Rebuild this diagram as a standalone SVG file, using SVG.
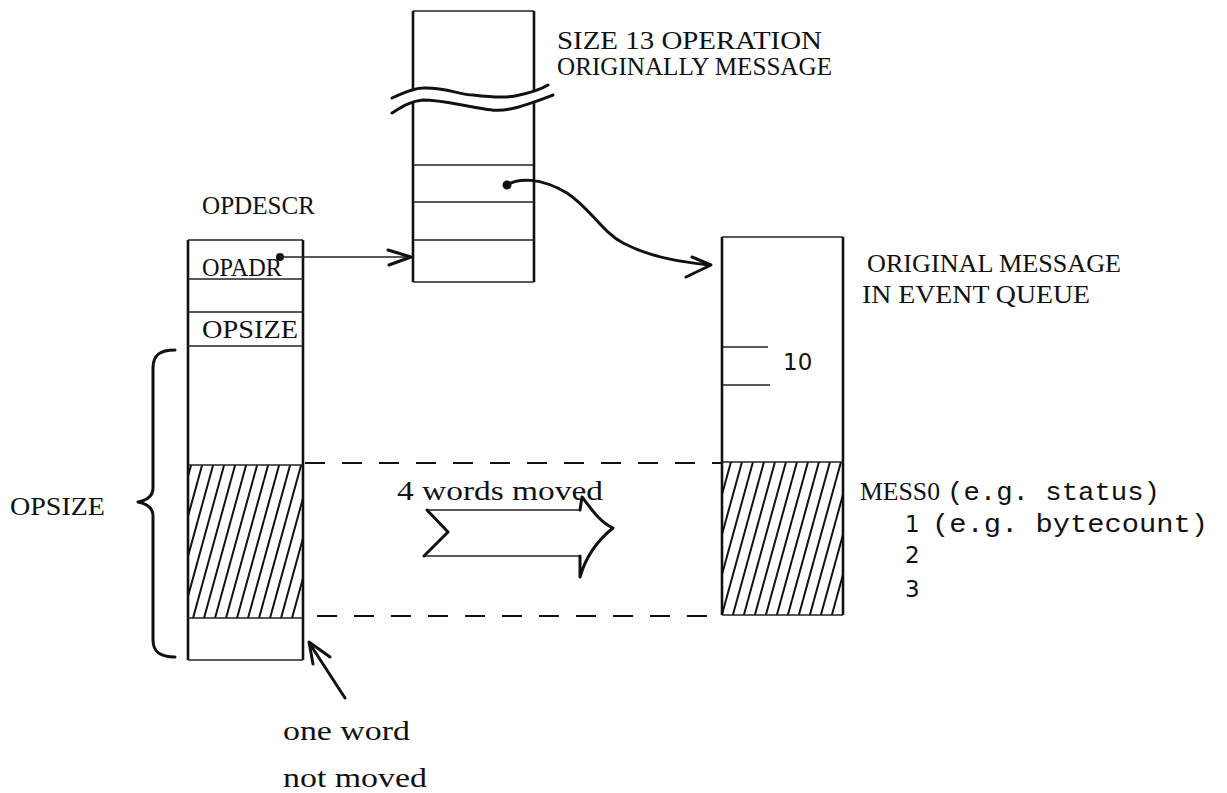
<svg xmlns="http://www.w3.org/2000/svg" width="1227" height="793" viewBox="0 0 1227 793">
<style>
.tw{font-family:"Liberation Serif","DejaVu Serif",serif;font-size:25px;fill:#111}
.lw{font-size:27px}
.mo{font-family:"Liberation Mono","DejaVu Sans Mono",monospace;font-size:26px;fill:#111}
.sn{font-family:"DejaVu Sans","Liberation Sans",sans-serif;font-size:23px;fill:#111}
.v{stroke:#111;stroke-width:2.6;fill:none}
.h{stroke:#222;stroke-width:1.6;fill:none}
.thick{stroke:#111;stroke-width:3;fill:none;stroke-linecap:round;stroke-linejoin:round}
.dash{stroke:#111;stroke-width:2;stroke-dasharray:20 17;fill:none}
</style>
<defs>
<pattern id="hatch" patternUnits="userSpaceOnUse" width="11" height="40">
<path d="M-11,40 L0,0 M0,40 L11,0 M11,40 L22,0" stroke="#111" stroke-width="2"/>
</pattern>
</defs>
<rect width="1227" height="793" fill="#fff"/>

<g id="top-box">
<line x1="413" y1="11" x2="534" y2="11" class="h"/>
<line x1="413" y1="11" x2="413" y2="282" class="v"/>
<line x1="534" y1="11" x2="534" y2="282" class="v"/>
<line x1="413" y1="165" x2="534" y2="165" class="h"/>
<line x1="413" y1="202" x2="534" y2="202" class="h"/>
<line x1="413" y1="240" x2="534" y2="240" class="h"/>
<line x1="413" y1="282" x2="534" y2="282" class="h"/>
<path d="M392,98 C405,92 415,88 423,88 C445,87 460,95 473,95 C490,97 505,98 515,96 C530,93 540,90 548,85 L553,95 C540,100 525,106 510,109 C495,112 485,109 473,107 C455,104 440,100 423,100 C410,101 400,108 392,113 Z" fill="#fff"/>
<path d="M392,98 C405,92 415,88 423,88 C445,87 460,95 473,95 C490,97 505,98 515,96 C530,93 540,90 548,85" class="thick"/>
<path d="M392,113 C400,108 410,101 423,100 C440,100 455,104 473,107 C485,109 495,112 510,109 C525,106 540,100 553,95" class="thick"/>
<text class="tw" x="557" y="49" font-size="20" textLength="265" lengthAdjust="spacingAndGlyphs">SIZE 13 OPERATION</text>
<text class="tw" x="557" y="75" font-size="20" textLength="275" lengthAdjust="spacingAndGlyphs">ORIGINALLY MESSAGE</text>
</g>

<g id="opdescr">
<text class="tw" x="202" y="214" textLength="113" lengthAdjust="spacingAndGlyphs">OPDESCR</text>
<rect x="188" y="465" width="115" height="153" fill="url(#hatch)"/>
<line x1="188" y1="240" x2="188" y2="660" class="v"/>
<line x1="303" y1="240" x2="303" y2="660" class="v"/>
<line x1="188" y1="240" x2="303" y2="240" class="h"/>
<line x1="188" y1="279" x2="303" y2="279" class="h"/>
<line x1="188" y1="312" x2="303" y2="312" class="h"/>
<line x1="188" y1="346" x2="303" y2="346" class="h"/>
<line x1="188" y1="465" x2="303" y2="465" class="h"/>
<line x1="188" y1="618" x2="303" y2="618" class="h"/>
<line x1="188" y1="660" x2="303" y2="660" class="h"/>
<text class="tw" x="202" y="276" textLength="80" lengthAdjust="spacingAndGlyphs">OPADR</text>
<text class="tw" x="202" y="338" textLength="96" lengthAdjust="spacingAndGlyphs">OPSIZE</text>
</g>

<g id="opsize-brace">
<path d="M175,350 C160,350 153,355 153,368 L153,488 C153,496 148,500 138,502 C148,504 153,508 153,516 L153,640 C153,652 160,657 175,657" class="thick"/>
<text class="tw" x="10" y="515" textLength="95" lengthAdjust="spacingAndGlyphs">OPSIZE</text>
</g>

<g id="original-message">
<rect x="722" y="462" width="121" height="153" fill="url(#hatch)"/>
<line x1="722" y1="237" x2="722" y2="615" class="v"/>
<line x1="843" y1="237" x2="843" y2="615" class="v"/>
<line x1="722" y1="237" x2="843" y2="237" class="h"/>
<line x1="722" y1="462" x2="843" y2="462" class="h"/>
<line x1="722" y1="615" x2="843" y2="615" class="h"/>
<line x1="722" y1="347" x2="768" y2="347" class="h"/>
<line x1="722" y1="385" x2="770" y2="385" class="h"/>
<text class="sn" x="783" y="370">10</text>
<text class="tw" x="867" y="272" textLength="254" lengthAdjust="spacingAndGlyphs">ORIGINAL MESSAGE</text>
<text class="tw" x="862" y="303" textLength="228" lengthAdjust="spacingAndGlyphs">IN EVENT QUEUE</text>
<text class="tw" x="860" y="500"><tspan textLength="80" lengthAdjust="spacingAndGlyphs">MESS0</tspan> <tspan class="mo" x="947" textLength="213" lengthAdjust="spacingAndGlyphs">(e.g. status)</tspan></text>
<text class="sn" x="905" y="532">1 <tspan class="mo" x="932" textLength="276" lengthAdjust="spacingAndGlyphs">(e.g. bytecount)</tspan></text>
<text class="sn" x="905" y="563">2</text>
<text class="sn" x="905" y="597">3</text>
</g>

<g id="connectors">
<circle cx="280" cy="257" r="4" fill="#111"/>
<line x1="280" y1="257" x2="411" y2="257" class="h"/>
<path d="M388,250 L411,257 L389,265" class="thick"/>
<circle cx="507" cy="185" r="4.5" fill="#111"/>
<path d="M507,185 C518,178 540,177 567,193 C590,208 602,232 623,243 C650,257 680,262 710,265" class="thick"/>
<path d="M692,257 L711,265 L686,277" class="thick"/>
<line x1="305" y1="463" x2="722" y2="463" class="dash"/>
<line x1="317" y1="616" x2="722" y2="616" class="dash"/>
<path d="M427,510 L580,510 M424,556 L580,556" class="h"/>
<path d="M427,510 L448,532 L424,556" class="thick"/>
<path d="M580,510 L582,497 C592,510 600,522 613,528 C598,540 586,556 580,577 L580,556" class="thick"/>
<text class="tw lw" x="397" y="500" textLength="206" lengthAdjust="spacingAndGlyphs">4 words moved</text>
<line x1="345" y1="698" x2="310" y2="644" class="thick"/>
<path d="M330,657 L309,642 L313,664" class="thick"/>
<text class="tw lw" x="283" y="740" textLength="127" lengthAdjust="spacingAndGlyphs">one word</text>
<text class="tw lw" x="283" y="787" textLength="144" lengthAdjust="spacingAndGlyphs">not moved</text>
</g>
</svg>
